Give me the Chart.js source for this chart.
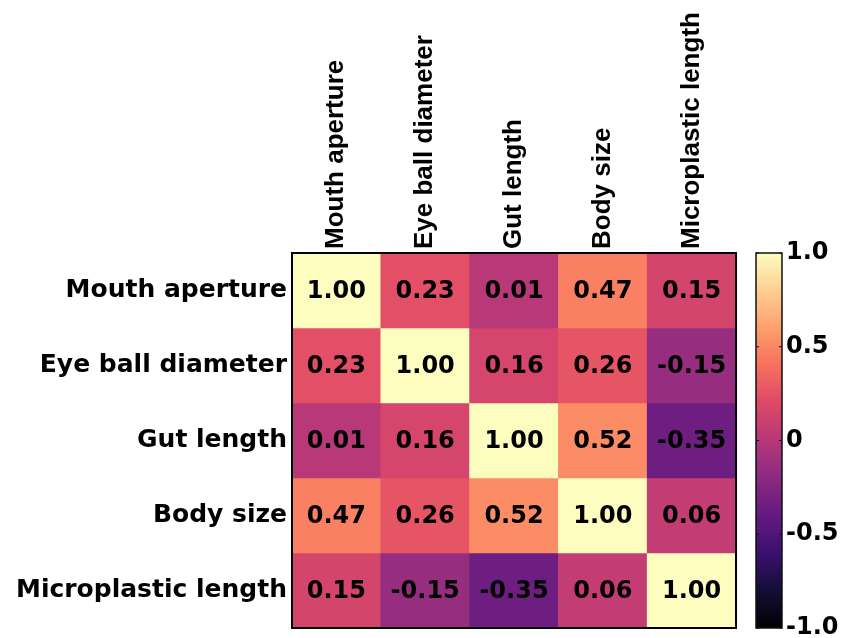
<!DOCTYPE html>
<html>
<head>
<meta charset="utf-8">
<script src="https://cdn.jsdelivr.net/npm/chart.js@4"></script>
<style>
  html, body { margin: 0; padding: 0; background: #ffffff; overflow: hidden; }
  #wrap { position: relative; width: 842px; height: 638px; }
</style>
</head>
<body>
<div id="wrap"><canvas id="c"></canvas></div>
<script>
// ---- data ----
const columnLabels = ['Mouth aperture', 'Eye ball diameter', 'Gut length', 'Body size', 'Microplastic length'];
const rowLabels = ['Mouth aperture', 'Eye ball diameter', 'Gut length', 'Body size', 'Microplastic length'];
const mouthAperture      = [1.00, 0.23, 0.01, 0.47, 0.15];
const eyeBallDiameter    = [0.23, 1.00, 0.16, 0.26, -0.15];
const gutLength          = [0.01, 0.16, 1.00, 0.52, -0.35];
const bodySize           = [0.47, 0.26, 0.52, 1.00, 0.06];
const microplasticLength = [0.15, -0.15, -0.35, 0.06, 1.00];
const rowValues = [mouthAperture, eyeBallDiameter, gutLength, bodySize, microplasticLength];
const colorbarTicks = [1.0, 0.5, 0, -0.5, -1.0];
const colorbarTickLabels = ['1.0', '0.5', '0', '-0.5', '-1.0'];
const scaleMin = -1, scaleMax = 1;

// ---- magma colormap ----
const magmaStops = ['#000004', '#140e36', '#3b0f70', '#641a80', '#8c2981', '#b73779', '#de4968', '#f7705c', '#fe9f6d', '#fecf92', '#fcfdbf'];
function hexToRgb(h) { return [parseInt(h.slice(1,3),16), parseInt(h.slice(3,5),16), parseInt(h.slice(5,7),16)]; }
const magmaRgb = magmaStops.map(hexToRgb);
function magma(t) {
  t = Math.max(0, Math.min(1, t));
  const p = t * (magmaRgb.length - 1);
  const i = Math.min(Math.floor(p), magmaRgb.length - 2);
  const f = p - i;
  const a = magmaRgb[i], b = magmaRgb[i + 1];
  return 'rgb(' + [0,1,2].map(k => Math.round(a[k] + (b[k] - a[k]) * f)).join(',') + ')';
}
function colorFor(v) { return magma((v - scaleMin) / (scaleMax - scaleMin)); }

const FONT = 'DejaVu Sans';
const COLFONT = 'Liberation Sans';

const datasets = rowLabels.map((name, r) => ({
  label: name,
  data: rowValues[r].map(() => [r, r + 1]),
  values: rowValues[r],
  backgroundColor: rowValues[r].map(colorFor),
  borderWidth: 0,
  barPercentage: 1.0,
  categoryPercentage: 1.0,
  grouped: false
}));

const cellText = {
  id: 'cellText',
  afterDatasetsDraw(chart) {
    const ctx = chart.ctx;
    ctx.save();
    ctx.font = 'bold 24px "' + FONT + '"';
    ctx.fillStyle = '#000';
    ctx.textAlign = 'center';
    ctx.textBaseline = 'middle';
    chart.data.datasets.forEach((ds, di) => {
      const meta = chart.getDatasetMeta(di);
      meta.data.forEach((el, i) => {
        const y = (el.y + el.base) / 2;
        ctx.fillText(ds.values[i].toFixed(2), el.x, y + 1);
      });
    });
    const a = chart.chartArea;
    ctx.strokeStyle = '#000';
    ctx.lineWidth = 2;
    ctx.strokeRect(a.left, a.top, a.right - a.left, a.bottom - a.top);
    ctx.restore();
  }
};

const colorbar = {
  id: 'colorbar',
  afterDraw(chart) {
    const s = chart.scales.cb;
    const ctx = chart.ctx;
    const x0 = s.left + 20, w = 26;
    const yTop = s.getPixelForValue(scaleMax), yBot = s.getPixelForValue(scaleMin);
    const g = ctx.createLinearGradient(0, yBot, 0, yTop);
    magmaStops.forEach((c, i) => g.addColorStop(i / (magmaStops.length - 1), c));
    ctx.save();
    ctx.fillStyle = g;
    ctx.fillRect(x0, yTop, w, yBot - yTop);
    ctx.strokeStyle = '#111';
    ctx.lineWidth = 1.5;
    ctx.strokeRect(x0, yTop, w, yBot - yTop);
    ctx.lineWidth = 1.2;
    colorbarTicks.forEach(v => {
      const y = s.getPixelForValue(v);
      ctx.beginPath();
      ctx.moveTo(x0, y); ctx.lineTo(x0 + 3, y);
      ctx.moveTo(x0 + w, y); ctx.lineTo(x0 + w - 3, y);
      ctx.stroke();
    });
    ctx.restore();
  }
};

new Chart(document.getElementById('c'), {
  type: 'bar',
  data: { labels: columnLabels, datasets },
  options: {
    responsive: true,
    maintainAspectRatio: false,
    animation: false,
    layout: { padding: { top: 0, bottom: 10, left: 0, right: 0 } },
    plugins: { legend: { display: false }, tooltip: { enabled: false } },
    scales: {
      x: {
        type: 'category',
        position: 'top',
        grid: { display: false, drawTicks: false },
        border: { display: false },
        ticks: {
          autoSkip: false,
          maxRotation: 90,
          minRotation: 90,
          padding: 4,
          labelOffset: 31,
          color: '#000',
          font: { family: COLFONT, size: 26, weight: 'bold' }
        },
        afterFit(scale) { scale.height = 253; scale.paddingLeft = 0; scale.paddingRight = 0; }
      },
      y: {
        type: 'linear',
        position: 'left',
        min: 0,
        max: rowLabels.length,
        reverse: true,
        grid: { display: false, drawTicks: false },
        border: { display: false },
        afterBuildTicks(scale) { scale.ticks = rowLabels.map((_, i) => ({ value: i + 0.5 })); },
        ticks: {
          padding: 5,
          color: '#000',
          font: { family: FONT, size: 25, weight: 'bold' },
          callback(value) { return rowLabels[Math.floor(value)]; }
        },
        afterFit(scale) { scale.width = 292; scale.paddingTop = 0; scale.paddingBottom = 0; }
      },
      cb: {
        type: 'linear',
        position: 'right',
        min: scaleMin,
        max: scaleMax,
        grid: { display: false, drawTicks: false },
        border: { display: false },
        afterBuildTicks(scale) { scale.ticks = colorbarTicks.map(v => ({ value: v })); },
        ticks: {
          padding: 50,
          color: '#000',
          font: { family: FONT, size: 24, weight: 'bold' },
          callback(value) { return colorbarTickLabels[colorbarTicks.indexOf(value)]; }
        },
        afterFit(scale) { scale.width = 106; scale.paddingTop = 0; scale.paddingBottom = 0; }
      }
    }
  },
  plugins: [cellText, colorbar]
});
</script>
</body>
</html>
